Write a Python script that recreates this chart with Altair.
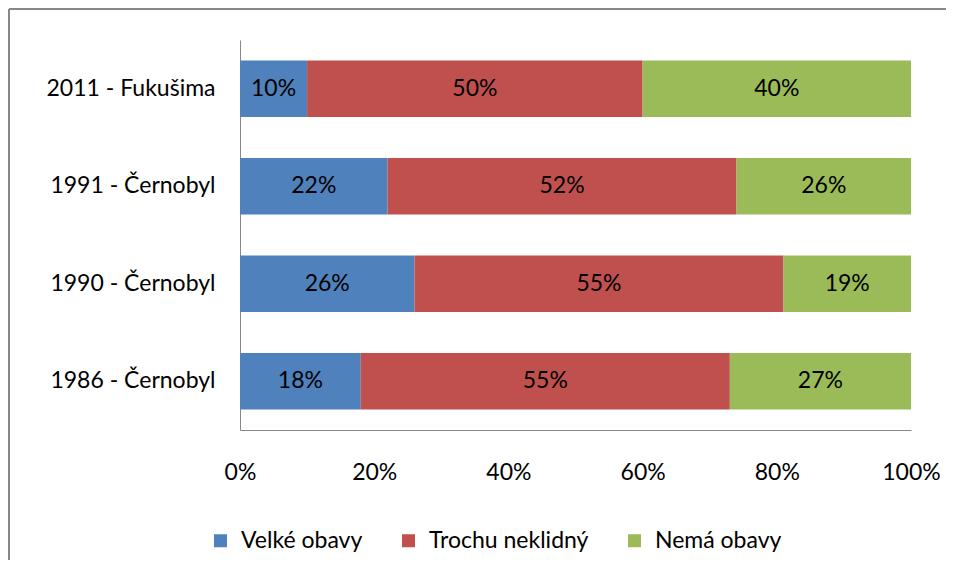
import altair as alt
import pandas as pd

years = ["2011 - Fukušima", "1991 - Černobyl", "1990 - Černobyl", "1986 - Černobyl"]
categories = ["Velké obavy", "Trochu neklidný", "Nemá obavy"]
colors = ["#4F81BD", "#C0504D", "#9BBB59"]
velke = [10, 22, 26, 18]
trochu = [50, 52, 55, 55]
nema = [40, 26, 19, 27]

rows = []
for i, y in enumerate(years):
    for j, (c, vals) in enumerate(zip(categories, [velke, trochu, nema])):
        rows.append({"rok": y, "kat": c, "ord": j, "v": vals[i]})
df = pd.DataFrame(rows)

FONT = "Lato"
FS = 23

base = alt.Chart(df).transform_stack(
    stack="v", groupby=["rok"], as_=["s0", "s1"], sort=[alt.SortField("ord")]
).transform_calculate(
    mid="(datum.s0 + datum.s1) / 2", lab="datum.v + '%'"
)

yenc = alt.Y("rok:N", sort=years, title=None,
             scale=alt.Scale(paddingInner=0.42, paddingOuter=0.21),
             axis=alt.Axis(ticks=False, domainColor="#888888", domainWidth=1,
                           labelPadding=25, labelFont=FONT, labelFontSize=FS,
                           labelFontWeight="normal", labelColor="#000000"))

bars = base.mark_bar().encode(
    x=alt.X("s0:Q", scale=alt.Scale(domain=[0, 100], nice=False), title=None,
            axis=alt.Axis(values=[0, 20, 40, 60, 80, 100], labelExpr="datum.value + '%'",
                          ticks=False, grid=False, domainColor="#888888",
                          labelPadding=31, labelFont=FONT, labelFontSize=FS,
                          labelFontWeight="normal", labelColor="#000000", labelFlush=False)),
    x2="s1:Q",
    y=yenc,
    color=alt.Color("kat:N", sort=categories,
                    scale=alt.Scale(domain=categories, range=colors),
                    legend=alt.Legend(title=None, orient="none", direction="horizontal",
                                      legendX=-31, legendY=489,
                                      symbolType="square", symbolSize=169,
                                      symbolStrokeWidth=0, labelFont=FONT,
                                      labelFontSize=FS, labelColor="#000000",
                                      labelFontWeight="normal",
                                      labelOffset=9, columnPadding=34)),
)

texts = base.mark_text(font=FONT, fontSize=FS, color="#000000").encode(
    x=alt.X("mid:Q"),
    y=alt.Y("rok:N", sort=years),
    text="lab:N",
)

border = alt.Chart(alt.Data(values=[{"a": 1}])).mark_rule(color="#888888", strokeWidth=2)
left_line = border.encode(x=alt.value(-231), y=alt.value(-31), y2=alt.value(520))
top_line = border.encode(x=alt.value(-231), x2=alt.value(706), y=alt.value(-31))

chart = alt.layer(bars, texts, left_line, top_line).properties(
    width=671, height=390, padding=0
).configure_view(stroke=None)

chart.save("out.html", embed_options={"renderer": "svg", "actions": False})
